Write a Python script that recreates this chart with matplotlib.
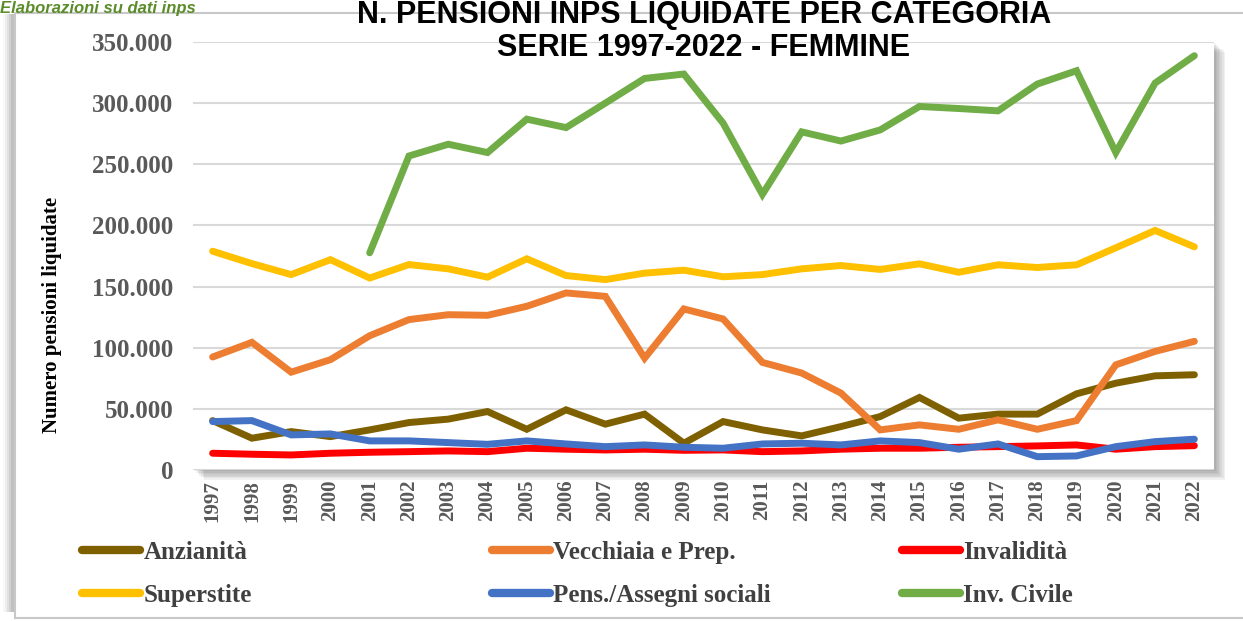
import numpy as np
import matplotlib
matplotlib.use("Agg")
import matplotlib.pyplot as plt
from matplotlib.lines import Line2D
from matplotlib.patches import Rectangle
from matplotlib.ticker import FuncFormatter

# dati (pensioni liquidate, femmine)
anni = list(range(1997, 2023))
anzianita = [40400, 26000, 31400, 27300, 32800, 38800, 41600, 47800, 33300, 49200, 37500, 45700, 21900,
             39600, 32800, 27900, 35500, 43700, 59300, 42400, 45700, 45700, 62300, 71000, 77000, 77900]
vecchiaia = [92400, 104400, 80000, 90200, 109800, 123000, 127000, 126500, 133900, 144800, 142000, 91500, 131700,
             123500, 88000, 79300, 62900, 32800, 36900, 33300, 41000, 33300, 40400, 86000, 97000, 105200]
invalidita = [13700, 12900, 12300, 13700, 14500, 15000, 15600, 15000, 17800, 17000, 16400, 17000, 16100,
              16400, 15000, 15600, 17000, 17800, 17800, 18600, 19100, 19700, 20500, 17000, 19100, 19900]
superstite = [178900, 168800, 159800, 172000, 157000, 168000, 164500, 157700, 172700, 159000, 155700, 161000, 163400,
              158000, 159800, 164500, 167200, 164000, 168600, 161700, 167800, 165600, 167800, 181700, 195900, 182500]
sociali = [39600, 40400, 28700, 29500, 23800, 23800, 22400, 21000, 23800, 21300, 19100, 20500, 18600,
           17800, 21300, 21900, 20500, 23800, 22400, 17000, 21300, 10900, 11500, 19100, 23200, 25200]
inv_civile = [np.nan, np.nan, np.nan, np.nan, 177600, 256800, 266400, 259600, 286900, 280000, 300000, 320200, 323800,
              283600, 225400, 276500, 269000, 278100, 297300, 295600, 293700, 315600, 326500, 259600, 316400, 338800]

nomi = ["Anzianità", "Vecchiaia e Prep.", "Invalidità", "Superstite", "Pens./Assegni sociali", "Inv. Civile"]
colori = ["#7F6000", "#ED7D31", "#FF0000", "#FFC000", "#4472C4", "#70AD47"]
serie = [anzianita, vecchiaia, invalidita, superstite, sociali, inv_civile]

W, H = 1243, 621
fig = plt.figure(figsize=(W / 100, H / 100), dpi=100)
fig.patch.set_facecolor("white")

def fx(px):
    return px / W

def fy(py):
    return 1 - py / H

# cornice esterna con ombra a sinistra
for i, a in enumerate([0.05, 0.08, 0.12, 0.16, 0.2]):
    fig.add_artist(Rectangle((fx(3 + i * 2), fy(612)), fx(14 - i * 2), fy(14) - fy(612),
                             transform=fig.transFigure, facecolor="#808080", alpha=a,
                             edgecolor="none", zorder=-3))
fig.add_artist(Rectangle((fx(15), fy(618)), fx(1300), fy(13) - fy(618), transform=fig.transFigure,
                         facecolor="white", edgecolor="#C8C8C8", lw=1.5, zorder=-2))

# area del grafico
left, right, top, bottom = 193, 1214, 42, 470
ax = fig.add_axes([fx(left), fy(bottom), fx(right - left), fy(top) - fy(bottom)])
ax.set_facecolor("white")

# ombra dell'area del grafico
for k in range(1, 8):
    fig.add_artist(Rectangle((fx(left + k * 1.6), fy(bottom + k * 1.4)), fx(right - left), fy(top) - fy(bottom),
                             transform=fig.transFigure, facecolor="#404040", alpha=0.07,
                             edgecolor="none", zorder=-1))

for s, c, n in zip(serie, colori, nomi):
    ax.plot(anni, s, color=c, lw=5, solid_capstyle="round", solid_joinstyle="miter", label=n)

ax.set_xlim(1996.5, 2022.5)
ax.set_ylim(0, 350000)
ax.set_yticks(np.arange(0, 350001, 50000))
ax.yaxis.set_major_formatter(FuncFormatter(lambda v, p: f"{int(v):,}".replace(",", ".")))
ax.set_xticks(anni)
ax.grid(axis="y", color="#D9D9D9", lw=1.5)
ax.set_axisbelow(True)
for sp in ax.spines.values():
    sp.set_visible(False)

ax.tick_params(axis="y", length=0, pad=14, labelsize=18, labelcolor="#595959")
ax.tick_params(axis="x", length=0, pad=7, labelsize=15, labelcolor="#595959", labelrotation=90)
for lab in ax.get_xticklabels() + ax.get_yticklabels():
    lab.set_fontfamily("Liberation Serif")
    lab.set_fontweight("bold")

ax.set_ylabel("Numero pensioni liquidate", fontsize=15, fontweight="bold", family="Liberation Serif", color="black")
ax.yaxis.set_label_coords((62 - left) / (right - left), (bottom - 315) / (bottom - top))

# titolo
fig.text(fx(704), fy(23), "N. PENSIONI INPS LIQUIDATE PER CATEGORIA", ha="center", va="baseline",
         fontsize=22, fontweight="bold", family="Liberation Sans", zorder=5)
fig.text(fx(704), fy(56), "SERIE 1997-2022 - FEMMINE", ha="center", va="baseline",
         fontsize=22, fontweight="bold", family="Liberation Sans", zorder=5)
fig.text(fx(196), fy(13), "Elaborazioni su dati inps", ha="right", va="baseline",
         fontsize=12, fontweight="bold", style="italic", family="Liberation Sans", color="#5B8C2A", zorder=5)

# legenda su due righe, tre colonne
gruppi = [(0, 3, 82), (1, 4, 492), (2, 5, 902)]
for a, b, xpos in gruppi:
    hs = [Line2D([], [], color=colori[i], lw=6, solid_capstyle="round") for i in (a, b)]
    leg = fig.legend(hs, [nomi[a], nomi[b]], loc="center left", bbox_to_anchor=(fx(xpos), fy(574)),
                     frameon=False, borderpad=0, borderaxespad=0, handlelength=2.3, handletextpad=0.15,
                     labelspacing=0.8, prop={"family": "Liberation Serif", "weight": "bold", "size": 18})
    for t in leg.get_texts():
        t.set_color("#404040")

fig.savefig("out.png", dpi=100)
